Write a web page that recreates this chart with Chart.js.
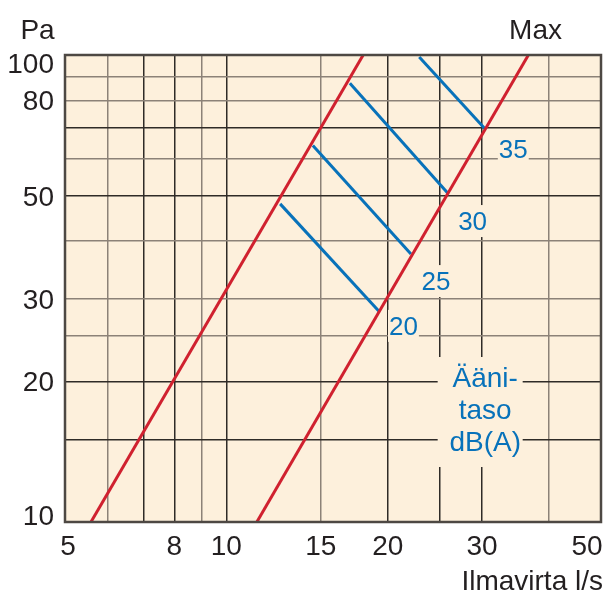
<!DOCTYPE html>
<html><head><meta charset="utf-8">
<script src="https://cdn.jsdelivr.net/npm/chart.js@4/dist/chart.umd.min.js"></script>
<style>html,body{margin:0;padding:0;background:#fff}canvas{display:block}</style>
</head><body>
<canvas id="c" width="607" height="592"></canvas>
<script>
// ---- data ----
const xTickLabels = [5, 8, 10, 15, 20, 30, 50];
const xGridValues = [5, 6, 7, 8, 9, 10, 15, 20, 25, 30, 40, 50];
const yTickLabels = [10, 20, 30, 50, 80, 100];
const yGridValues = [10, 15, 20, 25, 30, 40, 50, 60, 70, 80, 90, 100];
const xDarkGrid = [7, 8, 10, 20, 25, 30];
const yDarkGrid = [15, 20, 50, 70];
const lowerLineFlow = [5.59, 18.0];
const lowerLinePressure = [10, 100];
const maxLineFlow = [11.4, 36.6];
const maxLinePressure = [10, 100];
const noiseLevels = ['20', '25', '30', '35'];
const noiseStartFlow = [12.6, 14.5, 17.0, 22.9];
const noiseStartPressure = [48, 64, 87, 99];
const noiseEndFlow = [19.3, 22.1, 25.9, 30.4];
const noiseEndPressure = [28.2, 37.5, 50.6, 69.4];
const noiseLabelFlow = [21.4, 24.6, 28.8, 34.3];
const noiseLabelPressure = [26.3, 32.8, 44.1, 62.9];
const noteLines = ['Ääni-', 'taso', 'dB(A)'];
const noteFlow = 30.4, notePressure = 17.2;
const yTitle = 'Pa', xTitle = 'Ilmavirta l/s', maxTitle = 'Max';

// ---- styles ----
const RED = '#d0212f', BLUE = '#0872ba', BG = '#fdf0dc', TXT = '#231f20';
const DARK = '#2f2b27', GRAY = '#8c8278';
const FONT = '"Liberation Sans", Arial, Helvetica, sans-serif';

const pts = (xs, ys) => xs.map((x, i) => ({x, y: ys[i]}));
const datasets = [
  {data: pts(lowerLineFlow, lowerLinePressure), borderColor: RED},
  {data: pts(maxLineFlow, maxLinePressure), borderColor: RED}
];
noiseLevels.forEach((lv, i) => datasets.push({
  label: lv + ' dB(A)',
  data: [{x: noiseStartFlow[i], y: noiseStartPressure[i]}, {x: noiseEndFlow[i], y: noiseEndPressure[i]}],
  borderColor: BLUE
}));
datasets.forEach(d => { d.showLine = true; d.borderWidth = 3; d.pointRadius = 0; d.fill = false; d.borderCapStyle = 'butt'; });

const deco = {
  id: 'deco',
  beforeDraw(chart) {
    const {ctx, chartArea: a} = chart;
    ctx.save();
    ctx.fillStyle = BG;
    ctx.fillRect(a.left, a.top, a.right - a.left, a.bottom - a.top);
    ctx.restore();
  },
  beforeDatasetsDraw(chart) {
    const {ctx, scales: {x, y}} = chart;
    ctx.save();
    ctx.fillStyle = BG;
    ctx.font = '26px ' + FONT;
    noiseLevels.forEach((lv, i) => {
      const px = x.getPixelForValue(noiseLabelFlow[i]);
      const py = y.getPixelForValue(noiseLabelPressure[i]);
      const w = ctx.measureText(lv).width + 2;
      ctx.fillRect(px - w / 2, py - 16, w, 32);
    });
    const nx = x.getPixelForValue(noteFlow), ny = y.getPixelForValue(notePressure);
    ctx.fillRect(nx - 47.5, ny - 55, 85, 110);
    ctx.restore();
  },
  afterDatasetsDraw(chart) {
    const {ctx, chartArea: a, scales: {x, y}} = chart;
    ctx.save();
    // frame
    ctx.strokeStyle = '#4d4843';
    ctx.lineWidth = 2.5;
    ctx.strokeRect(a.left, a.top, a.right - a.left, a.bottom - a.top);
    // noise labels
    ctx.fillStyle = BLUE;
    ctx.textAlign = 'center';
    ctx.textBaseline = 'alphabetic';
    ctx.font = '26px ' + FONT;
    noiseLevels.forEach((lv, i) => {
      const px = x.getPixelForValue(noiseLabelFlow[i]);
      const py = y.getPixelForValue(noiseLabelPressure[i]);
      ctx.fillText(lv, px, py + 9.3);
    });
    ctx.font = '28px ' + FONT;
    const nx = x.getPixelForValue(noteFlow), ny = y.getPixelForValue(notePressure);
    noteLines.forEach((t, i) => ctx.fillText(t, nx, ny + 7 + (i - 1) * 31.7));
    // tick labels
    ctx.fillStyle = TXT;
    ctx.font = '28px ' + FONT;
    ctx.textAlign = 'center';
    xTickLabels.forEach((v, i) => {
      let px = x.getPixelForValue(v);
      if (i === 0) px += 3;
      if (i === xTickLabels.length - 1) px -= 14;
      ctx.fillText(String(v), px, a.bottom + 33);
    });
    ctx.textAlign = 'right';
    yTickLabels.forEach((v, i) => {
      let py = y.getPixelForValue(v);
      if (i === 0) py -= 7;
      if (i === yTickLabels.length - 1) py += 8;
      ctx.fillText(String(v), a.left - 11, py + 10);
    });
    // titles
    ctx.textAlign = 'center';
    ctx.fillText(yTitle, 37.5, 39);
    ctx.fillText(maxTitle, 535.5, 39);
    ctx.textAlign = 'right';
    ctx.fillText(xTitle, 603, 590);
    ctx.restore();
  }
};

new Chart(document.getElementById('c'), {
  type: 'scatter',
  data: {datasets},
  options: {
    responsive: false,
    animation: false,
    devicePixelRatio: 1,
    layout: {padding: {left: 65, right: 6, top: 55, bottom: 70}},
    plugins: {legend: {display: false}, tooltip: {enabled: false}},
    scales: {
      x: {
        type: 'logarithmic', min: 5, max: 50, position: 'bottom',
        ticks: {display: false},
        border: {display: false},
        grid: {drawTicks: false, lineWidth: 1.5,
          color: c => (c.tick && xDarkGrid.includes(c.tick.value)) ? DARK : GRAY},
        afterBuildTicks: s => { s.ticks = xGridValues.map(v => ({value: v})); },
        afterFit: s => { s.height = 0; }
      },
      y: {
        type: 'logarithmic', min: 10, max: 100, position: 'left',
        ticks: {display: false},
        border: {display: false},
        grid: {drawTicks: false, lineWidth: 1.5,
          color: c => (c.tick && yDarkGrid.includes(c.tick.value)) ? DARK : GRAY},
        afterBuildTicks: s => { s.ticks = yGridValues.map(v => ({value: v})); },
        afterFit: s => { s.height = undefined; s.width = 0; }
      }
    }
  },
  plugins: [deco]
});
</script>
</body></html>
